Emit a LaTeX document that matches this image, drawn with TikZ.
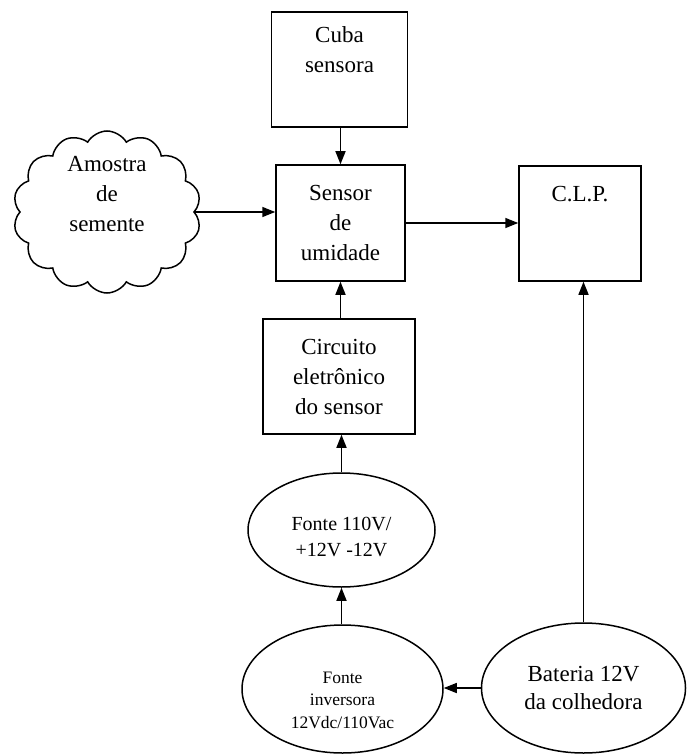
\documentclass[tikz,border=0pt]{standalone}
\usepackage{fontspec}
\setmainfont{Liberation Serif}
\usetikzlibrary{positioning, shapes.geometric, shapes.symbols, arrows.meta, calc}

\begin{document}
\begin{tikzpicture}[
    x=1pt, y=-1pt,
    line width=1.5pt,
    >={Triangle[length=13pt,width=10pt]},
    block/.style={draw, rectangle, inner sep=0pt, align=center, font=\fontsize{23}{30}\selectfont},
    oval/.style={draw, ellipse, inner sep=0pt, align=center},
    txt/.style={inner sep=0pt, align=center}
]
    \useasboundingbox (0,0) rectangle (686,754);

    % upper part: cuba above the sensor, seed sample on the left, CLP on the right
    \node[block, minimum width=136pt, minimum height=115pt] (cuba) at (339.5,69.5) {};
    \node[txt, anchor=north, font=\fontsize{23}{30}\selectfont] (cubatxt) at ([yshift=-15pt]cuba.north) {Cuba\\sensora};
    \node[block, minimum width=129pt, minimum height=116pt] (sensor) at (340.5,223) {Sensor\\de\\umidade};
    \node[block, minimum width=122pt, minimum height=115pt] (clp) at (580,223.5) {};
    \node[txt, anchor=north, font=\fontsize{23}{30}\selectfont] (clptxt) at ([yshift=-20pt]clp.north) {C.L.P.};
    \node[cloud, draw, cloud puffs=14, cloud puff arc=120, aspect=1.15, inner sep=0pt,
          minimum width=188pt, minimum height=162pt] (amostra) at (107,212) {};
    \node[txt, font=\fontsize{23}{30}\selectfont] (amostratxt) at ([yshift=18pt]amostra.center) {Amostra\\de\\semente};

    % lower part: electronics and power supply
    \node[block, minimum width=152pt, minimum height=115pt] (circuito) at (339,376.5) {Circuito\\eletrônico\\do sensor};
    \node[oval, minimum width=187pt, minimum height=114pt] (fonte) at (341.5,530) {};
    \node[txt, font=\fontsize{20}{26}\selectfont] (fontetxt) at ([yshift=-7pt]fonte.center) {Fonte 110V/\\+12V -12V};
    \node[oval, minimum width=201pt, minimum height=128pt] (inversora) at (342.5,689) {};
    \node[txt, font=\fontsize{17.5}{22.5}\selectfont] (inversoratxt) at ([yshift=-11pt]inversora.center) {Fonte\\inversora\\12Vdc/110Vac};
    \node[oval, minimum width=204pt, minimum height=130pt, font=\fontsize{23}{28}\selectfont] (bateria) at (583.5,688) {Bateria 12V\\da colhedora};

    % connections
    \draw[->] (sensor.north |- cuba.south) -- (sensor.north);
    \draw[->] (amostra.east) -- (amostra.east -| sensor.west);
    \draw[->] (sensor.east) -- (sensor.east -| clp.west);
    \draw[->] (sensor.south |- circuito.north) -- (sensor.south);
    \draw[->] (fonte.north) -- (fonte.north |- circuito.south);
    \draw[->] (fonte.south |- inversora.north) -- (fonte.south);
    \draw[->] (bateria.west) -- (bateria.west -| inversora.east);
    \draw[->] (bateria.north) -- (bateria.north |- clp.south);
\end{tikzpicture}
\end{document}
